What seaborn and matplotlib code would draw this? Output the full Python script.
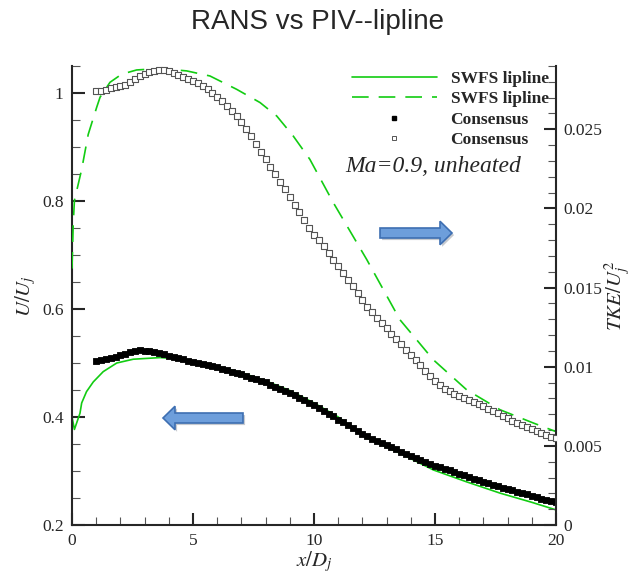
"""RANS vs PIV comparison along the lipline."""

import matplotlib
matplotlib.use("Agg")
import matplotlib.pyplot as plt
import matplotlib.patheffects as pe
from matplotlib.lines import Line2D
from matplotlib.patches import FancyArrow
from matplotlib.ticker import MultipleLocator
import pandas as pd
import seaborn as sns

# %% data
# SWFS lipline, mean velocity (left axis)
swfs_x_u = [0, 0.1, 0.2, 0.33, 0.4, 0.6, 0.88, 1.29, 1.85, 2.53, 3.64, 4.33, 5, 6, 7, 8,
            9, 10, 11, 12.18, 13.55, 14.93, 16.3, 17.69, 19, 20]
swfs_u = [0.40, 0.377, 0.39, 0.407, 0.426, 0.447, 0.465, 0.484, 0.500, 0.507, 0.510, 0.508,
          0.503, 0.494, 0.482, 0.467, 0.449, 0.426, 0.400, 0.361, 0.333, 0.302, 0.280, 0.259,
          0.242, 0.228]

# SWFS lipline, TKE (right axis)
swfs_x_tke = [0, 0.05, 0.1, 0.4, 0.67, 1.02, 1.16, 1.57, 2.05, 2.67, 3.64, 4.74, 5.7, 6.8,
              7.77, 8.46, 9.14, 9.83, 10.8, 12.18, 13.55, 14.93, 16.31, 17.69, 19.07, 20]
swfs_tke = [0.0162, 0.0190, 0.0205, 0.02247, 0.02468, 0.02639, 0.02703, 0.02797, 0.02848,
            0.02875, 0.02884, 0.02869, 0.02837, 0.02753, 0.02669, 0.02584, 0.02458, 0.0231,
            0.02036, 0.01677, 0.01297, 0.01044, 0.00854, 0.00728, 0.00644, 0.0059]

# PIV consensus, sampled every 0.2 D_j from x/D_j = 1 to 20
piv_x = [1.0, 1.2, 1.4, 1.6, 1.8, 2.0, 2.2, 2.4, 2.6, 2.8, 3.0, 3.2, 3.4, 3.6, 3.8, 4.0,
         4.2, 4.4, 4.6, 4.8, 5.0, 5.2, 5.4, 5.6, 5.8, 6.0, 6.2, 6.4, 6.6, 6.8, 7.0, 7.2,
         7.4, 7.6, 7.8, 8.0, 8.2, 8.4, 8.6, 8.8, 9.0, 9.2, 9.4, 9.6, 9.8, 10.0, 10.2, 10.4,
         10.6, 10.8, 11.0, 11.2, 11.4, 11.6, 11.8, 12.0, 12.2, 12.4, 12.6, 12.8, 13.0, 13.2,
         13.4, 13.6, 13.8, 14.0, 14.2, 14.4, 14.6, 14.8, 15.0, 15.2, 15.4, 15.6, 15.8, 16.0,
         16.2, 16.4, 16.6, 16.8, 17.0, 17.2, 17.4, 17.6, 17.8, 18.0, 18.2, 18.4, 18.6, 18.8,
         19.0, 19.2, 19.4, 19.6, 19.8, 20.0]
piv_u = [0.504, 0.506, 0.508, 0.510, 0.512, 0.514, 0.517, 0.521, 0.523, 0.524, 0.523, 0.522,
         0.520, 0.518, 0.516, 0.513, 0.511, 0.509, 0.507, 0.504, 0.502, 0.500, 0.498, 0.496,
         0.494, 0.492, 0.489, 0.487, 0.484, 0.482, 0.479, 0.476, 0.473, 0.470, 0.467, 0.464,
         0.460, 0.456, 0.452, 0.448, 0.444, 0.440, 0.435, 0.431, 0.426, 0.422, 0.417, 0.412,
         0.406, 0.401, 0.395, 0.390, 0.385, 0.379, 0.374, 0.369, 0.364, 0.360, 0.356, 0.352,
         0.348, 0.344, 0.340, 0.336, 0.332, 0.328, 0.324, 0.320, 0.317, 0.313, 0.310, 0.307,
         0.304, 0.301, 0.298, 0.295, 0.292, 0.289, 0.286, 0.283, 0.280, 0.277, 0.275, 0.272,
         0.269, 0.267, 0.264, 0.262, 0.259, 0.257, 0.254, 0.252, 0.249, 0.247, 0.245, 0.243]
piv_tke = [0.02740, 0.02745, 0.02750, 0.02760, 0.02768, 0.02775, 0.02782, 0.02800, 0.02820,
           0.02838, 0.02852, 0.02862, 0.02870, 0.02874, 0.02873, 0.02867, 0.02858, 0.02845,
           0.02832, 0.02820, 0.02806, 0.02790, 0.02772, 0.02752, 0.02730, 0.02705, 0.02676,
           0.02646, 0.02615, 0.02582, 0.02546, 0.02505, 0.02458, 0.02408, 0.02356, 0.02310,
           0.02264, 0.02218, 0.02170, 0.02120, 0.02070, 0.02022, 0.01975, 0.01926, 0.01875,
           0.01835, 0.01800, 0.01762, 0.01720, 0.01677, 0.01635, 0.01592, 0.01550, 0.01508,
           0.01465, 0.01422, 0.01380, 0.01345, 0.01311, 0.01277, 0.01243, 0.01209, 0.01175,
           0.01142, 0.01108, 0.01075, 0.01042, 0.01008, 0.00975, 0.00942, 0.00910, 0.00882,
           0.00862, 0.00845, 0.00830, 0.00816, 0.00802, 0.00789, 0.00776, 0.00763, 0.00750,
           0.00735, 0.00720, 0.00705, 0.00690, 0.00675, 0.00660, 0.00644, 0.00630, 0.00617,
           0.00604, 0.00592, 0.00580, 0.00569, 0.00559, 0.00549]

x_ticks = [0, 5, 10, 15, 20]
u_ticks = [0.2, 0.4, 0.6, 0.8, 1.0]
tke_ticks = [0, 0.005, 0.01, 0.015, 0.02, 0.025]
legend_labels = ["SWFS lipline", "SWFS lipline", "Consensus", "Consensus"]
title = "RANS vs PIV--lipline"
note = "Ma=0.9, unheated"

swfs_u_df = pd.DataFrame({"x": swfs_x_u, "val": swfs_u})
swfs_tke_df = pd.DataFrame({"x": swfs_x_tke, "val": swfs_tke})
piv_df = pd.DataFrame({"x": piv_x, "u": piv_u, "tke": piv_tke})

# %% style
sns.set_style("ticks")
plt.rcParams["font.family"] = ["Liberation Serif", "DejaVu Serif"]
plt.rcParams["mathtext.fontset"] = "stix"
green = "#12cc12"

fig = plt.figure(figsize=(6.35, 5.73), dpi=100)
ax = fig.add_axes([72 / 635, 48 / 573, 484 / 635, 459 / 573])
ax2 = ax.twinx()

sns.lineplot(data=swfs_u_df, x="x", y="val", sort=False, estimator=None, color=green,
             lw=1.2, ax=ax, legend=False)
sns.scatterplot(data=piv_df, x="x", y="u", marker="s", s=16, color="black",
                edgecolor="black", linewidth=0.6, ax=ax, legend=False, zorder=3)
sns.lineplot(data=swfs_tke_df, x="x", y="val", sort=False, estimator=None, color=green,
             lw=1.2, ax=ax2, legend=False)
ax2.lines[-1].set_dashes((10, 6))
sns.scatterplot(data=piv_df, x="x", y="tke", marker="s", s=13, facecolor="white",
                edgecolor="#555555", linewidth=0.8, ax=ax2, legend=False, zorder=3)

# %% axes
ax.set_xlim(0, 20)
ax.set_ylim(0.2, 1.05)
ax2.set_ylim(0, 0.029)
ax.set_xticks(x_ticks)
ax.set_xticklabels([f"{v:g}" for v in x_ticks])
ax.set_yticks(u_ticks)
ax.set_yticklabels([f"{v:g}" for v in u_ticks])
ax2.set_yticks(tke_ticks)
ax2.set_yticklabels([f"{v:g}" for v in tke_ticks])
ax.xaxis.set_minor_locator(MultipleLocator(1))
ax.yaxis.set_minor_locator(MultipleLocator(0.05))
ax2.yaxis.set_minor_locator(MultipleLocator(0.001))

for a in (ax, ax2):
    a.spines["top"].set_visible(False)
    for s in a.spines.values():
        s.set_linewidth(1.5)
ax.spines["right"].set_visible(False)
ax2.spines["left"].set_visible(False)
ax2.spines["bottom"].set_visible(False)

ax.tick_params(axis="both", which="major", direction="in", length=9, width=1.5,
               labelsize=12.5, pad=6)
ax.tick_params(axis="both", which="minor", direction="in", length=5.5, width=0.8,
               color="#555555")
ax.tick_params(axis="y", right=False)
ax.tick_params(axis="x", top=False, which="both")
ax2.tick_params(axis="y", which="major", direction="in", length=9, width=1.5,
                labelsize=12.5, pad=5)
ax2.tick_params(axis="y", which="minor", direction="in", length=5.5, width=0.8,
                color="#555555")

ax.set_xlabel(r"$x/D_j$", fontsize=15, labelpad=0)
ax.set_ylabel(r"$U/U_j$", fontsize=15, labelpad=3)
ax2.set_ylabel(r"$TKE/U_j^2$", fontsize=15, labelpad=1)

fig.text(0.5, 1 - 22 / 573, title, ha="center", va="center", fontsize=20,
         family=["Liberation Sans", "DejaVu Sans"])

# %% legend and annotation
handles = [
    Line2D([], [], color=green, lw=1.2),
    Line2D([], [], color=green, lw=1.2, dashes=(10, 6)),
    Line2D([], [], ls="none", marker="s", ms=3.5, color="black"),
    Line2D([], [], ls="none", marker="s", ms=3.5, mfc="white", mec="#555555", mew=0.7),
]
ax2.legend(handles, legend_labels, loc="upper right", bbox_to_anchor=(0.985, 0.99),
           frameon=False, handlelength=4.9, handletextpad=0.8, labelspacing=0.25,
           borderpad=0, borderaxespad=0, numpoints=1,
           prop={"family": "Liberation Serif", "weight": "bold", "size": 12.5})
ax2.text(0.746, 0.78, note, transform=ax2.transAxes, ha="center", va="center",
         fontsize=17, style="italic")

# block arrows pointing to the axis each curve belongs to
shadow = [pe.SimplePatchShadow(offset=(1.5, -1.5), alpha=0.25), pe.Normal()]
for x0, y0, dx in [(2.43, 1.55, -0.80), (3.80, 3.40, 0.72)]:
    arr = FancyArrow(x0, y0, dx, 0, width=0.10, head_width=0.235, head_length=0.12,
                     length_includes_head=True, transform=fig.dpi_scale_trans,
                     facecolor="#6d9edb", edgecolor="#3e6fb2", lw=1.2)
    arr.set_path_effects(shadow)
    fig.add_artist(arr)

fig.savefig("out.png", dpi=100)
